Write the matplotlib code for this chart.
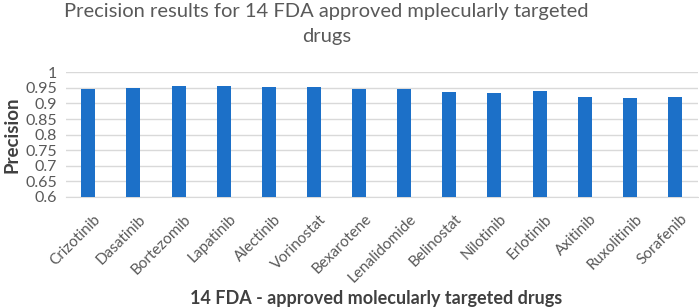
import matplotlib
matplotlib.use("Agg")
import matplotlib.pyplot as plt
import matplotlib.transforms as mtransforms
import numpy as np

drugs = ["Crizotinib", "Dasatinib", "Bortezomib", "Lapatinib", "Alectinib", "Vorinostat",
         "Bexarotene", "Lenalidomide", "Belinostat", "Nilotinib", "Erlotinib", "Axitinib",
         "Ruxolitinib", "Sorafenib"]
precision = [0.946, 0.950, 0.955, 0.957, 0.954, 0.954, 0.947, 0.946, 0.938, 0.934,
             0.940, 0.921, 0.917, 0.922]
yticks = [0.6, 0.65, 0.7, 0.75, 0.8, 0.85, 0.9, 0.95, 1.0]
ytick_labels = ["0.6", "0.65", "0.7", "0.75", "0.8", "0.85", "0.9", "0.95", "1"]

plt.rcParams['font.family'] = ['Lato', 'DejaVu Sans']
fig = plt.figure(figsize=(6.99, 3.08), dpi=100)
ax = fig.add_axes([0.094, 0.361, 0.904, 0.404])

x = np.arange(len(drugs))
ax.bar(x, precision, width=0.31, color="#1c70c8", zorder=3)
ax.set_xlim(-0.5, len(drugs) - 0.5)
ax.set_ylim(0.6, 1.0)
ax.set_yticks(yticks)
ax.set_yticklabels(ytick_labels, fontsize=11.5, color="#595959")
ax.yaxis.grid(True, color="#d9d9d9", linewidth=1, zorder=0)
for s in ["top", "right", "left"]:
    ax.spines[s].set_visible(False)
ax.spines["bottom"].set_color("#d9d9d9")
ax.tick_params(axis="both", length=0)
ax.tick_params(axis="y", pad=6)
ax.set_xticks(x)
ax.set_xticklabels(drugs, rotation=45, ha="right", rotation_mode="anchor",
                   fontsize=11, color="#595959")
ax.tick_params(axis="x", pad=11)
offset = mtransforms.ScaledTranslation(5 / 100, 0, fig.dpi_scale_trans)
for lab in ax.get_xticklabels():
    lab.set_transform(lab.get_transform() + offset)
ax.set_ylabel("Precision", fontsize=13.5, fontweight="bold", color="#404040", labelpad=4)
ax.set_xlabel("14 FDA - approved molecularly targeted drugs", fontsize=13,
              fontweight="bold", color="#404040")
ax.xaxis.set_label_coords(0.492, -0.745)
ax.xaxis.label.set_va("top")
fig.text(0.467, 0.99, "Precision results for 14 FDA approved mplecularly targeted\ndrugs",
         ha="center", va="top", fontsize=14.5, color="#595959", linespacing=1.55)

fig.savefig("out.png", dpi=100)
